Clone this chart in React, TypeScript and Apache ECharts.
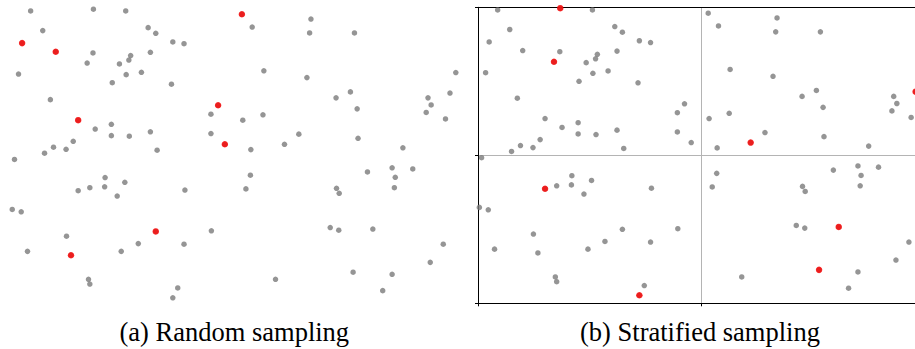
import React, { useEffect, useRef } from "react";
import * as echarts from "echarts";

// 100 sample points in the unit square
const pointX = [
  0.044, 0.184, 0.256, 0.071, 0.306, 0.323, 0.361, 0.386, 0.025, 0.100,
  0.183, 0.267, 0.263, 0.311, 0.170, 0.242, 0.017, 0.257, 0.291, 0.226,
  0.358, 0.088, 0.462, 0.446, 0.150, 0.188, 0.224, 0.224, 0.264, 0.311,
  0.446, 0.477, 0.139, 0.095, 0.075, 0.123, 0.326, 0.008, 0.515, 0.538,
  0.669, 0.666, 0.766, 0.564, 0.660, 0.992, 0.757, 0.725, 0.772, 0.930,
  0.979, 0.937, 0.926, 0.969, 0.517, 0.562, 0.642, 0.610, 0.774, 0.535,
  0.874, 0.210, 0.254, 0.150, 0.176, 0.209, 0.237, 0.388, 0.003, 0.023,
  0.323, 0.447, 0.124, 0.037, 0.134, 0.284, 0.246, 0.386, 0.173, 0.176,
  0.372, 0.361, 0.534, 0.524, 0.795, 0.850, 0.896, 0.857, 0.855, 0.726,
  0.732, 0.712, 0.731, 0.807, 0.964, 0.935, 0.590, 0.763, 0.850, 0.829,
];
const pointY = [
  0.991, 0.997, 0.991, 0.925, 0.935, 0.916, 0.887, 0.881, 0.883, 0.854,
  0.850, 0.841, 0.826, 0.852, 0.816, 0.813, 0.779, 0.777, 0.785, 0.750,
  0.745, 0.693, 0.674, 0.644, 0.624, 0.594, 0.610, 0.572, 0.570, 0.585,
  0.579, 0.543, 0.553, 0.533, 0.513, 0.526, 0.523, 0.492, 0.980, 0.937,
  0.964, 0.917, 0.917, 0.790, 0.767, 0.784, 0.719, 0.699, 0.662, 0.699,
  0.715, 0.675, 0.650, 0.628, 0.624, 0.642, 0.577, 0.543, 0.563, 0.525,
  0.531, 0.431, 0.415, 0.387, 0.397, 0.400, 0.369, 0.389, 0.324, 0.316,
  0.250, 0.252, 0.234, 0.183, 0.170, 0.209, 0.183, 0.207, 0.089, 0.073,
  0.060, 0.027, 0.439, 0.393, 0.450, 0.464, 0.460, 0.432, 0.397, 0.395,
  0.378, 0.263, 0.254, 0.258, 0.207, 0.146, 0.089, 0.113, 0.106, 0.051,
];
// indices of the highlighted samples
const sampleRandom = [8, 9, 22, 24, 31, 38, 70, 74];
const sampleStratified = [1, 14, 57, 50, 63, 81, 93, 97];
const captions = ["(a) Random sampling", "(b) Stratified sampling"];
const axisTicks = [0, 0.5, 1];

const GRAY = "#7a7a7a";
const RED = "#ff0000";

export default function App() {
  const ref = useRef<HTMLDivElement>(null);
  useEffect(() => {
    if (!ref.current) return;
    const chart = echarts.init(ref.current, undefined, { renderer: "svg" });
    const all = pointX.map((x, i) => [x, pointY[i]]);
    const pick = (idx: number[]) => idx.map((i) => [pointX[i], pointY[i]]);
    const tickStep = axisTicks[1] - axisTicks[0];
    const hidden = {
      type: "value" as const,
      min: 0,
      max: 1,
      show: false,
    };
    const captionStyle = {
      font: '26.5px "Liberation Serif"',
      fill: "#000",
      align: "center",
      verticalAlign: "middle",
    };
    chart.setOption({
      animation: false,
      grid: [
        { left: 10.9, top: 8.3, width: 448.5, height: 297.5, outerBoundsMode: "none", containLabel: false },
        { left: 478, top: 7.3, width: 447, height: 296, outerBoundsMode: "none", containLabel: false },
      ],
      xAxis: [
        { ...hidden, gridIndex: 0 },
        {
          type: "value",
          gridIndex: 1,
          min: axisTicks[0],
          max: axisTicks[axisTicks.length - 1],
          interval: tickStep,
          position: "bottom",
          axisLine: { show: true, onZero: false, lineStyle: { color: "#000", width: 1 } },
          axisTick: { show: true, length: 3, lineStyle: { color: "#000" } },
          axisLabel: { show: false },
          splitLine: { show: true, lineStyle: { color: "#b4b4b4", width: 1 } },
        },
        {
          type: "value",
          gridIndex: 1,
          min: 0,
          max: 1,
          position: "top",
          axisLine: { show: true, onZero: false, lineStyle: { color: "#000", width: 1 } },
          axisTick: { show: false },
          axisLabel: { show: false },
          splitLine: { show: false },
        },
      ],
      yAxis: [
        { ...hidden, gridIndex: 0 },
        {
          type: "value",
          gridIndex: 1,
          min: axisTicks[0],
          max: axisTicks[axisTicks.length - 1],
          interval: tickStep,
          position: "left",
          axisLine: { show: true, onZero: false, lineStyle: { color: "#000", width: 1 } },
          axisTick: { show: true, length: 3, lineStyle: { color: "#000" } },
          axisLabel: { show: false },
          splitLine: { show: true, lineStyle: { color: "#b4b4b4", width: 1 } },
        },
      ],
      series: [
        {
          type: "scatter",
          xAxisIndex: 0,
          yAxisIndex: 0,
          data: all,
          symbolSize: 5.5,
          itemStyle: { color: GRAY },
          silent: true,
        },
        {
          type: "scatter",
          xAxisIndex: 0,
          yAxisIndex: 0,
          data: pick(sampleRandom),
          symbolSize: 6.5,
          itemStyle: { color: RED },
          silent: true,
          z: 3,
        },
        {
          type: "scatter",
          xAxisIndex: 1,
          yAxisIndex: 1,
          data: all,
          symbolSize: 5.5,
          itemStyle: { color: GRAY },
          silent: true,
        },
        {
          type: "scatter",
          xAxisIndex: 1,
          yAxisIndex: 1,
          data: pick(sampleStratified),
          symbolSize: 6.5,
          itemStyle: { color: RED },
          silent: true,
          z: 3,
        },
      ],
      graphic: [
        {
          type: "text",
          x: 234.3,
          y: 332,
          style: { ...captionStyle, text: captions[0] },
        },
        {
          type: "text",
          x: 700,
          y: 332,
          style: { ...captionStyle, text: captions[1] },
        },
      ],
    });
    return () => chart.dispose();
  }, []);
  return (
    <div
      ref={ref}
      style={{ position: "fixed", left: 0, top: 0, width: 915, height: 349, background: "#fff" }}
    />
  );
}
